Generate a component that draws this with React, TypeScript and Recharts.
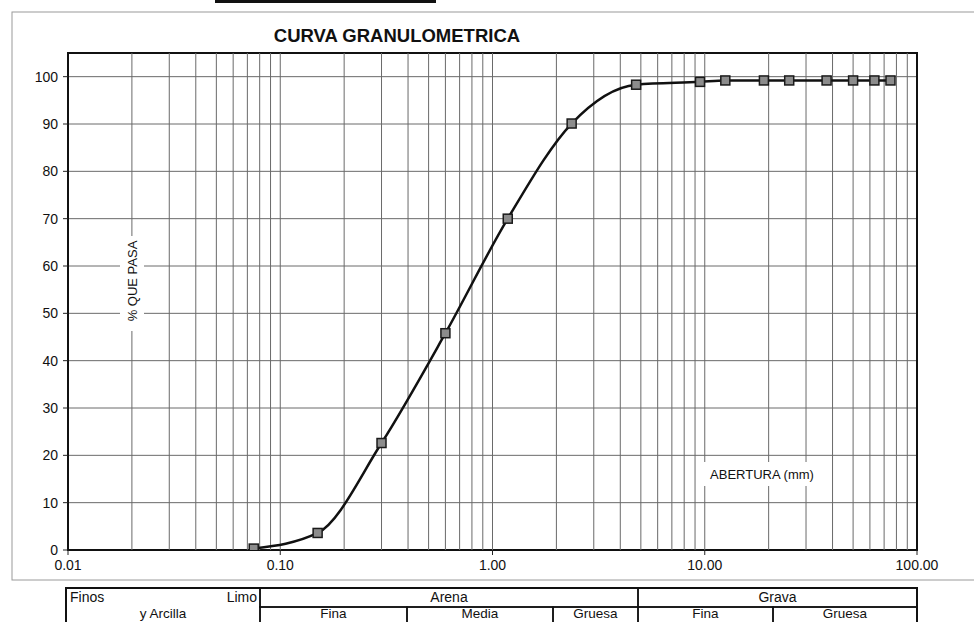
import { CartesianGrid, Line, LineChart, ReferenceArea, ReferenceLine, XAxis, YAxis } from 'recharts'

// sieve openings (mm) and percent passing, read from the sheet
const openings = [0.075, 0.15, 0.3, 0.6, 1.18, 2.36, 4.75, 9.5, 12.5, 19, 25, 37.5, 50, 63, 75]
const percentPassing = [0.3, 3.6, 22.6, 45.8, 70.0, 90.1, 98.3, 98.9, 99.2, 99.2, 99.2, 99.2, 99.2, 99.2, 99.2]

const xTicks = [0.01, 0.1, 1, 10, 100]
const yTicks = [0, 10, 20, 30, 40, 50, 60, 70, 80, 90, 100]
const logGrid = [
  0.02, 0.03, 0.04, 0.05, 0.06, 0.07, 0.08, 0.09, 0.1,
  0.2, 0.3, 0.4, 0.5, 0.6, 0.7, 0.8, 0.9, 1,
  2, 3, 4, 5, 6, 7, 8, 9, 10,
  20, 30, 40, 50, 60, 70, 80, 90,
]

const data = openings.map((size, i) => ({ size, pass: percentPassing[i] }))

const FONT = '"Liberation Sans", Arial, sans-serif'

function SquareDot(props: any) {
  const { cx, cy } = props
  if (cx == null || cy == null) return null
  return <rect x={cx - 4.5} y={cy - 4.5} width={9} height={9} fill="#8c8c8c" stroke="#1a1a1a" strokeWidth={1.5} />
}

// classification strip under the chart
const tableTop = 588
const rowH = 19
const row1 = [
  { x1: 66, x2: 260, text: '' },
  { x1: 260, x2: 638, text: 'Arena' },
  { x1: 638, x2: 917, text: 'Grava' },
]
const row2 = [
  { x1: 66, x2: 260, text: 'y Arcilla' },
  { x1: 260, x2: 407, text: 'Fina' },
  { x1: 407, x2: 553, text: 'Media' },
  { x1: 553, x2: 638, text: 'Gruesa' },
  { x1: 638, x2: 773, text: 'Fina' },
  { x1: 773, x2: 917, text: 'Gruesa' },
]

export default function App() {
  return (
    <div style={{ position: 'absolute', left: 0, top: 0, width: 974, height: 622, background: '#fff', fontFamily: FONT, overflow: 'hidden' }}>
      <svg width={974} height={622} style={{ position: 'absolute', left: 0, top: 0 }}>
        <rect x={12} y={12} width={990} height={568} fill="none" stroke="#9a9a9a" strokeWidth={1} />
        <rect x={215} y={0} width={221} height={3} fill="#111" />
        <text x={397} y={42} textAnchor="middle" fontFamily={FONT} fontWeight="bold" fontSize={18.5} fill="#111">
          CURVA GRANULOMETRICA
        </text>
      </svg>

      <div style={{ position: 'absolute', left: 0, top: 0 }}>
        <LineChart width={974} height={622} data={data} margin={{ top: 53, right: 57, bottom: 42, left: 8 }}>
          <CartesianGrid vertical={false} stroke="#6a6a6a" strokeWidth={1} />
          {logGrid.map((v) => (
            <ReferenceLine key={v} x={v} stroke="#6a6a6a" strokeWidth={1} />
          ))}
          <XAxis
            dataKey="size"
            type="number"
            scale="log"
            domain={[0.01, 100]}
            ticks={xTicks}
            tickFormatter={(v: number) => v.toFixed(2)}
            height={30}
            axisLine={false}
            tickLine={{ stroke: '#222' }}
            tickSize={5}
            tickMargin={5}
            tick={{ fill: '#111', fontSize: 14, fontFamily: FONT }}
            allowDataOverflow
          />
          <YAxis
            type="number"
            domain={[0, 105]}
            ticks={yTicks}
            width={60}
            axisLine={false}
            tickLine={{ stroke: '#222' }}
            tickSize={5}
            tickMargin={5}
            tick={{ fill: '#111', fontSize: 14, fontFamily: FONT }}
            allowDataOverflow
          />
          <ReferenceArea x1={0.01} x2={100} y1={0} y2={105} fill="none" fillOpacity={0} stroke="#111" strokeWidth={2} />
          <Line
            type="monotone"
            dataKey="pass"
            stroke="#111"
            strokeWidth={2.5}
            dot={<SquareDot />}
            activeDot={false}
            isAnimationActive={false}
          />
        </LineChart>
      </div>

      <svg width={974} height={622} style={{ position: 'absolute', left: 0, top: 0, pointerEvents: 'none' }}>
        <rect x={120} y={236} width={24} height={95} fill="#fff" />
        <text
          x={0}
          y={0}
          transform="translate(137 281) rotate(-90)"
          textAnchor="middle"
          fontFamily={FONT}
          fontSize={13}
          fill="#111"
        >
          % QUE PASA
        </text>
        <rect x={703} y={462} width={118} height={24} fill="#fff" />
        <text x={762} y={479} textAnchor="middle" fontFamily={FONT} fontSize={13} fill="#111">
          ABERTURA (mm)
        </text>

        {row1.map((c, i) => (
          <g key={'r1' + i}>
            <rect x={c.x1} y={tableTop} width={c.x2 - c.x1} height={rowH} fill="none" stroke="#111" strokeWidth={1.5} />
            <text x={(c.x1 + c.x2) / 2} y={tableTop + 14} textAnchor="middle" fontFamily={FONT} fontSize={14} fill="#111">
              {c.text}
            </text>
          </g>
        ))}
        {row2.map((c, i) => (
          <g key={'r2' + i}>
            <rect x={c.x1} y={tableTop + rowH} width={c.x2 - c.x1} height={rowH} fill="none" stroke="#111" strokeWidth={1.5} />
            <text x={(c.x1 + c.x2) / 2} y={618} textAnchor="middle" fontFamily={FONT} fontSize={13.5} fill="#111">
              {c.text}
            </text>
          </g>
        ))}
        {/* the fines cell spans both rows */}
        <rect x={67} y={tableTop + rowH - 1} width={192} height={2} fill="#fff" />
        <text x={70} y={tableTop + 14} fontFamily={FONT} fontSize={14} fill="#111">Finos</text>
        <text x={257} y={tableTop + 14} textAnchor="end" fontFamily={FONT} fontSize={14} fill="#111">Limo</text>
        <rect x={66} y={tableTop} width={851} height={rowH * 2} fill="none" stroke="#111" strokeWidth={2} />
      </svg>
    </div>
  )
}
